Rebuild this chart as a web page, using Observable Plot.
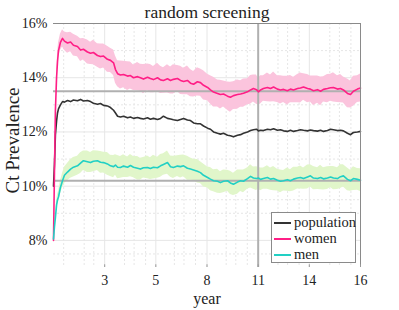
<!DOCTYPE html>
<html><head><meta charset="utf-8">
<script src="https://cdn.jsdelivr.net/npm/d3@7"></script>
<script src="https://cdn.jsdelivr.net/npm/@observablehq/plot@0.6"></script>
<style>
body{margin:0;background:#fff;}
#wrap{position:relative;width:399px;height:310px;font-family:'Liberation Serif',serif;}
#legend{position:absolute;left:271px;top:212px;width:85px;height:51px;border:1px solid #8a8a8a;background:#fff;box-sizing:border-box;font-size:14.5px;color:#222;}
#legend .row{position:absolute;left:2px;height:16px;line-height:16px;white-space:nowrap;}
#legend .sw{display:inline-block;width:17px;height:2px;vertical-align:middle;margin-right:3px;position:relative;top:-1px;}
</style></head>
<body><div id="wrap"></div>
<script>
const title = "random screening";
const yLabel = "Ct Prevalence";
const xLabel = "year";
const seriesNames = ["population", "women", "men"];
const seriesColors = ["#333333", "#ff1f86", "#22d0c4"];
const xTicks = [2.667, 5.333, 8, 10.667, 13.333, 16];
const xTickLabels = ["3", "5", "8", "11", "14", "16"];
const yTicks = [8, 10, 12, 14, 16];
const refLevels = [13.5, 10.2];
const refYears = [10.667];

const years = [
 0, 0.05, 0.10, 0.16, 0.21, 0.26, 0.36, 0.47, 0.57, 0.73,
 0.89, 1.04, 1.25, 1.41, 1.56, 1.77, 1.93, 2.08, 2.29, 2.45,
 2.61, 2.81, 2.97, 3.13, 3.23, 3.34, 3.49, 3.65, 3.86, 4.01,
 4.17, 4.38, 4.53, 4.69, 4.90, 5.05, 5.21, 5.42, 5.58, 5.73,
 5.94, 6.10, 6.25, 6.46, 6.62, 6.78, 6.98, 7.14, 7.30, 7.50,
 7.66, 7.82, 8.03, 8.18, 8.34, 8.55, 8.70, 8.86, 9.07, 9.22,
 9.38, 9.59, 9.75, 9.90, 10.11, 10.27, 10.42, 10.58, 10.68, 10.79,
 10.94, 11.15, 11.31, 11.47, 11.67, 11.83, 11.99, 12.19, 12.35, 12.51,
 12.72, 12.87, 13.03, 13.24, 13.39, 13.55, 13.76, 13.92, 14.07, 14.28,
 14.44, 14.59, 14.80, 14.96, 15.11, 15.32, 15.48, 15.63, 15.84, 16.00];

const women = [
 8.0, 10.5, 12.8, 14.0, 14.6, 15.0, 15.3, 15.45, 15.35, 15.28,
 15.32, 15.2, 15.15, 15.02, 15.05, 14.95, 14.9, 14.93, 14.82, 14.78,
 14.8, 14.68, 14.64, 14.55, 14.3, 14.15, 14.1, 14.12, 14.06, 14.08,
 14.0, 14.04, 14.0, 13.95, 14.02, 13.97, 13.93, 14.0, 13.92, 13.9,
 13.96, 13.9, 13.94, 13.97, 13.9, 13.86, 13.9, 13.8, 13.76, 13.85,
 13.82, 13.72, 13.64, 13.55, 13.47, 13.42, 13.38, 13.4, 13.32, 13.28,
 13.34, 13.38, 13.4, 13.43, 13.48, 13.55, 13.6, 13.56, 13.48, 13.55,
 13.6, 13.64, 13.6, 13.66, 13.58, 13.55, 13.57, 13.52, 13.58, 13.55,
 13.6, 13.62, 13.66, 13.6, 13.58, 13.52, 13.56, 13.5, 13.57, 13.6,
 13.63, 13.64, 13.58, 13.6, 13.55, 13.42, 13.38, 13.5, 13.58, 13.62];

const population = [
 10.0, 10.8, 11.9, 12.4, 12.7, 12.85, 13.0, 13.12, 13.1, 13.16,
 13.12, 13.18, 13.15, 13.2, 13.14, 13.16, 13.12, 13.06, 13.02, 13.05,
 12.98, 12.96, 12.9, 12.8, 12.7, 12.58, 12.55, 12.58, 12.52, 12.55,
 12.5, 12.53, 12.5, 12.48, 12.52, 12.47, 12.5, 12.46, 12.5, 12.58,
 12.5, 12.48, 12.45, 12.42, 12.46, 12.5, 12.44, 12.42, 12.33, 12.3,
 12.3, 12.22, 12.14, 12.1, 12.0, 11.95, 11.92, 11.95, 11.88, 11.86,
 11.82, 11.88, 11.9, 11.95, 12.0, 12.05, 12.08, 12.1, 12.04, 12.06,
 12.05, 12.1, 12.08, 12.12, 12.06, 12.08, 12.04, 12.02, 12.06, 12.02,
 12.05, 12.08, 12.06, 12.04, 12.07, 12.05, 12.03, 12.06, 12.02, 12.05,
 12.1, 12.08, 12.05, 12.06, 12.04, 11.95, 11.9, 11.98, 12.0, 12.02];

const men = [
 8.05, 8.5, 8.85, 9.3, 9.5, 9.6, 9.95, 10.2, 10.4, 10.52,
 10.63, 10.7, 10.75, 10.85, 10.94, 10.9, 10.87, 10.92, 10.94, 10.88,
 10.87, 10.82, 10.75, 10.72, 10.78, 10.7, 10.69, 10.74, 10.7, 10.76,
 10.7, 10.66, 10.63, 10.68, 10.69, 10.65, 10.7, 10.68, 10.75, 10.8,
 10.87, 10.72, 10.69, 10.74, 10.72, 10.75, 10.66, 10.63, 10.6, 10.55,
 10.5, 10.4, 10.32, 10.26, 10.2, 10.18, 10.13, 10.18, 10.2, 10.12,
 10.07, 10.15, 10.2, 10.18, 10.28, 10.36, 10.3, 10.28, 10.3, 10.25,
 10.28, 10.32, 10.26, 10.28, 10.22, 10.18, 10.2, 10.24, 10.2, 10.26,
 10.3, 10.32, 10.28, 10.34, 10.38, 10.3, 10.28, 10.32, 10.27, 10.3,
 10.34, 10.3, 10.28, 10.35, 10.38, 10.25, 10.2, 10.28, 10.25, 10.22];

const womenSpread = [
 0.05, 0.1, 0.15, 0.2, 0.25, 0.28, 0.3, 0.32, 0.34, 0.38,
 0.36, 0.4, 0.38, 0.42, 0.4, 0.44, 0.41, 0.45, 0.43, 0.46,
 0.44, 0.48, 0.45, 0.47, 0.5, 0.48, 0.52, 0.49, 0.53, 0.5,
 0.47, 0.52, 0.5, 0.54, 0.49, 0.52, 0.48, 0.53, 0.5, 0.47,
 0.52, 0.5, 0.54, 0.48, 0.52, 0.49, 0.53, 0.5, 0.47, 0.52,
 0.5, 0.54, 0.49, 0.52, 0.55, 0.5, 0.53, 0.48, 0.52, 0.55,
 0.51, 0.54, 0.49, 0.52, 0.48, 0.53, 0.5, 0.54, 0.49, 0.52,
 0.47, 0.53, 0.5, 0.55, 0.49, 0.52, 0.48, 0.53, 0.5, 0.47,
 0.52, 0.55, 0.49, 0.52, 0.48, 0.54, 0.5, 0.53, 0.47, 0.52,
 0.5, 0.54, 0.49, 0.52, 0.48, 0.53, 0.5, 0.55, 0.49, 0.52];

const menSpread = [
 0.05, 0.1, 0.12, 0.15, 0.18, 0.2, 0.24, 0.27, 0.3, 0.32,
 0.34, 0.36, 0.35, 0.38, 0.36, 0.4, 0.37, 0.39, 0.36, 0.4,
 0.38, 0.42, 0.39, 0.41, 0.38, 0.43, 0.4, 0.42, 0.38, 0.41,
 0.39, 0.43, 0.4, 0.38, 0.42, 0.4, 0.44, 0.39, 0.42, 0.4,
 0.43, 0.39, 0.41, 0.38, 0.42, 0.4, 0.44, 0.41, 0.39, 0.43,
 0.4, 0.42, 0.39, 0.43, 0.41, 0.44, 0.4, 0.42, 0.39, 0.43,
 0.41, 0.45, 0.4, 0.42, 0.39, 0.43, 0.41, 0.44, 0.4, 0.42,
 0.39, 0.43, 0.41, 0.45, 0.4, 0.42, 0.38, 0.43, 0.41, 0.44,
 0.4, 0.42, 0.39, 0.44, 0.41, 0.43, 0.4, 0.45, 0.41, 0.42,
 0.39, 0.43, 0.4, 0.44, 0.41, 0.42, 0.39, 0.44, 0.4, 0.42];

const minorX = [0.53, 1.6, 2.1, 3.7, 4.2, 4.8, 6.3, 6.8, 7.4, 9.0, 9.5, 10.1, 11.7, 12.2, 12.8, 14.4, 14.9, 15.5];
const minorY = [15, 13, 11, 9.5, 9, 7.5];

const rows = years.map((year, i) => ({
  year,
  population: population[i],
  women: women[i],
  men: men[i],
  wLo: women[i] - womenSpread[i], wHi: women[i] + womenSpread[i],
  mLo: men[i] - menSpread[i], mHi: men[i] + menSpread[i]
}));

const chart = Plot.plot({
  width: 399, height: 310,
  marginLeft: 53, marginRight: 39, marginTop: 23, marginBottom: 43,
  style: {fontFamily: "'Liberation Serif', serif", fontSize: "14px", color: "#222", background: "#fff", overflow: "visible"},
  x: {type: "linear", domain: [0, 16]},
  y: {type: "linear", domain: [7, 16]},
  marks: [
    Plot.ruleY(minorY, {stroke: "#e6e6e6", strokeDasharray: "2,2"}),
    Plot.ruleX(minorX, {stroke: "#e6e6e6", strokeDasharray: "2,2"}),
    Plot.ruleY(yTicks, {stroke: "#e6e6e6"}),
    Plot.ruleX(xTicks, {stroke: "#e6e6e6"}),
    Plot.areaY(rows, {x: "year", y1: "wLo", y2: "wHi", fill: "#fbc4dd"}),
    Plot.areaY(rows, {x: "year", y1: "mLo", y2: "mHi", fill: "#e1f6ca"}),
    Plot.ruleY(refLevels, {stroke: "#b0b0b0", strokeWidth: 2}),
    Plot.ruleX(refYears, {stroke: "#b0b0b0", strokeWidth: 2}),
    Plot.line(rows, {x: "year", y: "population", stroke: seriesColors[0], strokeWidth: 1.6}),
    Plot.line(rows, {x: "year", y: "women", stroke: seriesColors[1], strokeWidth: 1.6}),
    Plot.line(rows, {x: "year", y: "men", stroke: seriesColors[2], strokeWidth: 1.6}),
    Plot.ruleY([16], {stroke: "#8a8a8a"}),
    Plot.ruleX([16], {stroke: "#8a8a8a"}),
    Plot.ruleX(xTicks, {y1: 7, y2: 7.1, stroke: "#999"}),
    Plot.axisX({ticks: xTicks, tickFormat: d => xTickLabels[xTicks.indexOf(d)], tickSize: 0, tickPadding: 8, label: null, fontSize: 14}),
    Plot.axisY({ticks: yTicks, tickFormat: d => d + "%", tickSize: 0, tickPadding: 6, label: null, fontSize: 14}),
    Plot.text([title], {frameAnchor: "top", lineAnchor: "bottom", dy: -6, fontSize: 17.5}),
    Plot.text([xLabel], {frameAnchor: "bottom", lineAnchor: "middle", dy: 31, fontSize: 16}),
    Plot.text([yLabel], {frameAnchor: "left", textAnchor: "middle", lineAnchor: "middle", dx: -41, dy: -5, rotate: -90, fontSize: 19})
  ]
});
const wrap = document.getElementById("wrap");
wrap.appendChild(chart);
const legend = document.createElement("div");
legend.id = "legend";
seriesNames.forEach((name, i) => {
  const r = document.createElement("div");
  r.className = "row";
  r.style.top = (1 + i * 16) + "px";
  r.innerHTML = `<span class="sw" style="background:${seriesColors[i]}"></span>${name}`;
  legend.appendChild(r);
});
wrap.appendChild(legend);
</script></body></html>
